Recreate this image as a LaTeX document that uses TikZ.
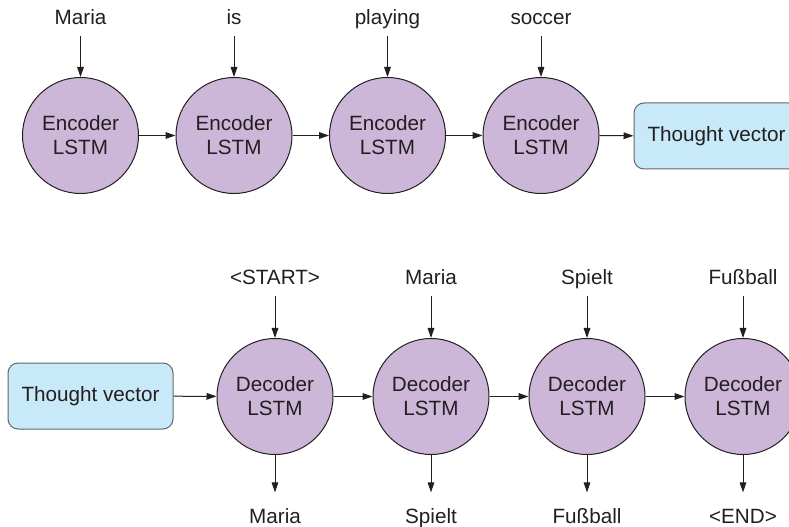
\documentclass[tikz,border=0pt]{standalone}
\usepackage{fontspec}
\setmainfont{Liberation Sans}
\usetikzlibrary{arrows.meta}

\definecolor{lstmpurple}{RGB}{205,183,217}
\definecolor{thoughtblue}{RGB}{200,233,248}
\definecolor{inkgray}{RGB}{35,31,32}

\begin{document}
\begin{tikzpicture}[
  x=0.75pt, y=-0.75pt, >={Triangle[length=7.5pt, width=5pt]},
  every node/.style={text=inkgray, font=\fontsize{15.5}{18}\selectfont},
  lstm/.style={circle, draw=inkgray, fill=lstmpurple, line width=0.75pt, inner sep=0pt, minimum size=87pt, align=center},
  thought/.style={rectangle, draw=gray!80!black, fill=thoughtblue, line width=0.75pt, rounded corners=7.5pt, minimum width=123.75pt, minimum height=49.5pt},
  word/.style={inner sep=0pt, text height=11pt, text depth=0pt, anchor=base, outer sep=8.25pt},
  outword/.style={word, outer sep=12pt},
  line/.style={draw=inkgray, line width=0.75pt, ->}
]
  \useasboundingbox (0,0) rectangle (789,527);

  % ==================== ENCODER (Top) ====================
  \node[lstm] (enc1) at (80.5, 135.5) {Encoder\\LSTM};
  \node[lstm] (enc2) at (234, 135.5) {Encoder\\LSTM};
  \node[lstm] (enc3) at (387.5, 135.5) {Encoder\\LSTM};
  \node[lstm] (enc4) at (541, 135.5) {Encoder\\LSTM};
  \node[thought] (tv1) at (716.5, 136) {Thought vector};

  % input words
  \node[word] (in1) at (80.5, 25) {Maria};
  \node[word] (in2) at (234, 25) {is};
  \node[word] (in3) at (387.5, 25) {playing};
  \node[word] (in4) at (541, 25) {soccer};

  \draw[line] (in1) -- (enc1);
  \draw[line] (in2) -- (enc2);
  \draw[line] (in3) -- (enc3);
  \draw[line] (in4) -- (enc4);

  \draw[line] (enc1) -- (enc2);
  \draw[line] (enc2) -- (enc3);
  \draw[line] (enc3) -- (enc4);
  \draw[line] (enc4) -- (tv1);

  % ==================== DECODER (Bottom) ====================
  \node[thought] (tv2) at (90.5, 396) {Thought vector};
  \node[lstm] (dec1) at (275, 396.5) {Decoder\\LSTM};
  \node[lstm] (dec2) at (431, 396.5) {Decoder\\LSTM};
  \node[lstm] (dec3) at (587, 396.5) {Decoder\\LSTM};
  \node[lstm] (dec4) at (743, 396.5) {Decoder\\LSTM};

  % decoder inputs
  \node[word] (din1) at (275, 285) {<START>};
  \node[word] (din2) at (431, 285) {Maria};
  \node[word] (din3) at (587, 285) {Spielt};
  \node[word] (din4) at (743, 285) {Fußball};

  % decoder outputs
  \node[outword] (dout1) at (275, 523) {Maria};
  \node[outword] (dout2) at (431, 523) {Spielt};
  \node[outword] (dout3) at (587, 523) {Fußball};
  \node[outword] (dout4) at (743, 523) {<END>};

  \draw[line] (tv2) -- (dec1);
  \draw[line] (dec1) -- (dec2);
  \draw[line] (dec2) -- (dec3);
  \draw[line] (dec3) -- (dec4);

  \draw[line] (din1) -- (dec1);
  \draw[line] (din2) -- (dec2);
  \draw[line] (din3) -- (dec3);
  \draw[line] (din4) -- (dec4);

  \draw[line] (dec1) -- (dout1);
  \draw[line] (dec2) -- (dout2);
  \draw[line] (dec3) -- (dout3);
  \draw[line] (dec4) -- (dout4);

\end{tikzpicture}
\end{document}
